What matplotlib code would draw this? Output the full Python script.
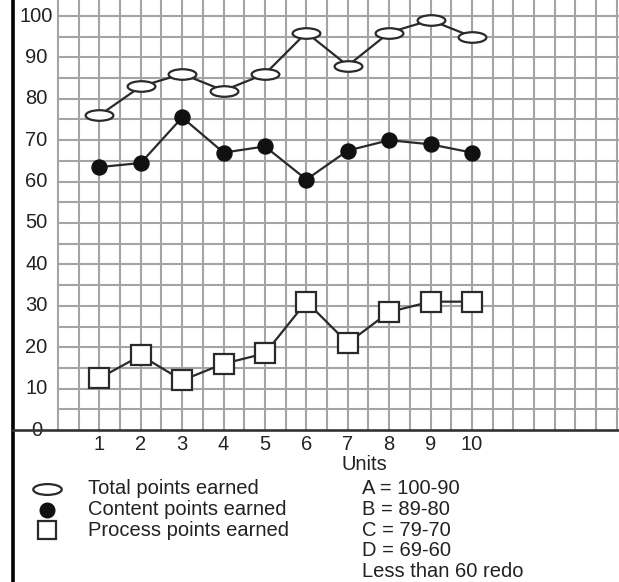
import numpy as np
import matplotlib
matplotlib.use("Agg")
import matplotlib.pyplot as plt
from matplotlib.path import Path

plt.rcParams['font.family'] = ['Liberation Sans', 'DejaVu Sans']

# data
units = [1, 2, 3, 4, 5, 6, 7, 8, 9, 10]
total_pts = [76, 83, 86, 82, 86, 96, 88, 96, 99, 95]
content_pts = [63.5, 64.5, 75.5, 67, 68.5, 60.5, 67.5, 70, 69, 67]
process_pts = [12.5, 18, 12, 16, 18.5, 31, 21, 28.5, 31, 31]

y_ticks = [0, 10, 20, 30, 40, 50, 60, 70, 80, 90, 100]
legend_labels = ['Total points earned', 'Content points earned', 'Process points earned']
grade_lines = ['A = 100-90', 'B = 89-80', 'C = 79-70', 'D = 69-60', 'Less than 60 redo']

# pixel layout: unit 0 at x=58px, 41.4px per unit; value 0 at y=430px, 4.14px per point
W, H = 619, 582
px_u, px_v = 41.4, 4.14
x0, y0 = 58, 430

def ux(px):
    return (px - x0) / px_u

def vy(py):
    return (y0 - py) / px_v

fig = plt.figure(figsize=(W / 100, H / 100), dpi=100)
ax = fig.add_axes([0, 0, 1, 1])
ax.set_xlim(ux(0), ux(W))
ax.set_ylim(vy(H), vy(0))
ax.axis('off')

# grid paper
grid_c = '#a4a4a4'
for gx in np.arange(0, 14, 0.5):
    ax.plot([gx, gx], [0, vy(0)], color=grid_c, lw=1.5, zorder=1)
for gy in np.arange(5, 105, 5):
    ax.plot([0, ux(W)], [gy, gy], color=grid_c, lw=1.5, zorder=1)

# axes lines
ax.plot([ux(13), ux(13)], [vy(H), vy(0)], color='black', lw=2.6, zorder=3)
ax.plot([ux(13), ux(W)], [0, 0], color='#333333', lw=1.9, zorder=3)

# ellipse marker
circ = Path.unit_circle()
ellipse = Path(circ.vertices * np.array([1.0, 0.38]), circ.codes)

line_c = '#2a2a2a'
ax.plot(units, total_pts, color=line_c, lw=1.6, marker=ellipse, ms=20,
        mfc='white', mec=line_c, mew=1.6, zorder=4)
ax.plot(units, content_pts, color=line_c, lw=1.6, marker='o', ms=10.8,
        mfc='#111111', mec='#111111', zorder=4)
ax.plot(units, process_pts, color=line_c, lw=1.6, marker='s', ms=14,
        mfc='white', mec=line_c, mew=1.6, zorder=4)

txt_c = '#222222'
fs = 14.5
for t in y_ticks:
    ax.text(ux(36.5), t, str(t), ha='center', va='center', fontsize=fs, color=txt_c, zorder=2)
for u in units:
    ax.text(u, vy(444.5), str(u), ha='center', va='center', fontsize=fs, color=txt_c)
ax.text(ux(364), vy(465), 'Units', ha='center', va='center', fontsize=fs, color=txt_c)

# legend
leg_y = [489, 509.5, 530]
ax.plot(ux(47), vy(leg_y[0]), marker=ellipse, ms=20.5, mfc='white', mec=line_c, mew=1.6)
ax.plot(ux(47), vy(leg_y[1]), marker='o', ms=10.5, mfc='#111111', mec='#111111')
ax.plot(ux(47), vy(leg_y[2]), marker='s', ms=13, mfc='white', mec=line_c, mew=1.6)
for lab, py in zip(legend_labels, leg_y):
    ax.text(ux(88), vy(py), lab, ha='left', va='center', fontsize=fs, color=txt_c)

for i, g in enumerate(grade_lines):
    ax.text(ux(362), vy(489 + 20.6 * i), g, ha='left', va='center', fontsize=fs, color=txt_c)

fig.savefig('out.png', dpi=100)
